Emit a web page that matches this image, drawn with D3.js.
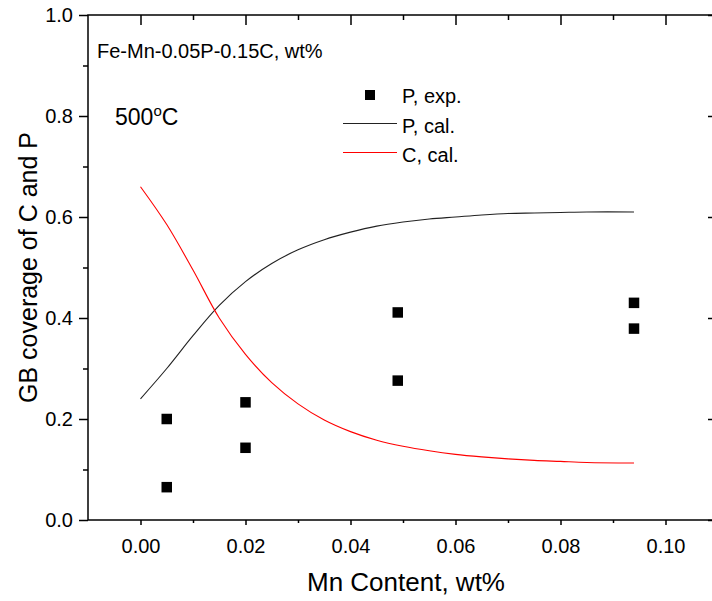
<!DOCTYPE html>
<html>
<head>
<meta charset="utf-8">
<script src="https://cdn.jsdelivr.net/npm/d3@7"></script>
<style>
  body { margin: 0; background: #fff; }
  svg { font-family: Arial, "Liberation Sans", sans-serif; }
  .axis path, .axis line { stroke: #000; stroke-width: 1.5; }
  .axis text { font-size: 20px; fill: #000; }
</style>
</head>
<body>
<svg width="712" height="601"></svg>
<script>
// P, exp. points
var expMn = [0.005, 0.005, 0.02, 0.02, 0.049, 0.049, 0.094, 0.094];
var expP = [0.200, 0.065, 0.233, 0.143, 0.411, 0.276, 0.430, 0.379];

// P, cal. and C, cal. curves (same Mn grid)
var calMn = [0, 0.005, 0.01, 0.015, 0.02, 0.025, 0.03, 0.035, 0.04, 0.045,
    0.05, 0.055, 0.06, 0.065, 0.07, 0.075, 0.08, 0.085, 0.094];
var calP = [0.240, 0.300, 0.365, 0.425, 0.472, 0.508, 0.535, 0.555, 0.570, 0.582,
    0.590, 0.596, 0.600, 0.604, 0.607, 0.608, 0.609, 0.610, 0.610];
var calC = [0.660, 0.585, 0.495, 0.400, 0.328, 0.272, 0.230, 0.198, 0.175, 0.158,
    0.146, 0.137, 0.130, 0.125, 0.121, 0.118, 0.116, 0.114, 0.113];

var xTicks = [0, 0.02, 0.04, 0.06, 0.08, 0.10];
var xMinor = [0.01, 0.03, 0.05, 0.07, 0.09];
var yTicks = [0, 0.2, 0.4, 0.6, 0.8, 1.0];
var yMinor = [0.1, 0.3, 0.5, 0.7, 0.9];

var svg = d3.select('svg');

var plot = {l: 88, r: 718, t: 15, b: 520};

var xScale = d3.scaleLinear().domain([-0.01, 0.11]).range([plot.l, plot.r]);
var yScale = d3.scaleLinear().domain([0, 1]).range([plot.b, plot.t]);

// axes: bottom & left outward, top & right inward
svg.append('g')
    .attr('class', 'axis')
    .attr('transform', 'translate(0,' + plot.b + ')')
    .call(d3.axisBottom(xScale).tickValues(xTicks).tickSize(5).tickPadding(14)
        .tickFormat(d3.format('.2f')));
svg.append('g')
    .attr('class', 'axis')
    .attr('transform', 'translate(0,' + plot.b + ')')
    .call(d3.axisBottom(xScale).tickValues(xMinor).tickSize(3).tickFormat(''));

svg.append('g')
    .attr('class', 'axis')
    .attr('transform', 'translate(0,' + plot.t + ')')
    .call(d3.axisBottom(xScale).tickValues(xTicks).tickSize(10).tickFormat(''));
svg.append('g')
    .attr('class', 'axis')
    .attr('transform', 'translate(0,' + plot.t + ')')
    .call(d3.axisBottom(xScale).tickValues(xMinor).tickSize(5).tickFormat(''));

svg.append('g')
    .attr('class', 'axis')
    .attr('transform', 'translate(' + plot.l + ',0)')
    .call(d3.axisLeft(yScale).tickValues(yTicks).tickSize(9).tickPadding(6)
        .tickFormat(d3.format('.1f')));
svg.append('g')
    .attr('class', 'axis')
    .attr('transform', 'translate(' + plot.l + ',0)')
    .call(d3.axisLeft(yScale).tickValues(yMinor).tickSize(5).tickFormat(''));

svg.append('g')
    .attr('class', 'axis')
    .attr('transform', 'translate(' + plot.r + ',0)')
    .call(d3.axisLeft(yScale).tickValues(yTicks).tickSize(10).tickFormat(''));
svg.append('g')
    .attr('class', 'axis')
    .attr('transform', 'translate(' + plot.r + ',0)')
    .call(d3.axisLeft(yScale).tickValues(yMinor).tickSize(5).tickFormat(''));

svg.selectAll('.axis .domain').attr('d', null);
svg.append('rect')
    .attr('x', plot.l).attr('y', plot.t)
    .attr('width', plot.r - plot.l).attr('height', plot.b - plot.t)
    .attr('fill', 'none').attr('stroke', '#000').attr('stroke-width', 1.5);

// curves
var line = d3.line()
    .x(function(d) { return xScale(d[0]); })
    .y(function(d) { return yScale(d[1]); })
    .curve(d3.curveCatmullRom);

svg.append('path')
    .datum(d3.zip(calMn, calP))
    .attr('fill', 'none').attr('stroke', '#222').attr('stroke-width', 1.1)
    .attr('d', line);

svg.append('path')
    .datum(d3.zip(calMn, calC))
    .attr('fill', 'none').attr('stroke', '#ff0000').attr('stroke-width', 1.1)
    .attr('d', line);

// exp squares
var sq = 10.5;
svg.selectAll('.pt')
    .data(d3.zip(expMn, expP))
    .enter().append('rect')
    .attr('class', 'pt')
    .attr('x', function(d) { return xScale(d[0]) - sq / 2; })
    .attr('y', function(d) { return yScale(d[1]) - sq / 2; })
    .attr('width', sq).attr('height', sq)
    .attr('fill', '#000');

// axis titles
svg.append('text')
    .attr('x', 406).attr('y', 591)
    .attr('text-anchor', 'middle')
    .style('font-size', '26px')
    .text('Mn Content, wt%');

svg.append('text')
    .attr('transform', 'translate(37,' + (plot.t + plot.b) / 2 + ') rotate(-90)')
    .attr('text-anchor', 'middle')
    .style('font-size', '25px')
    .text('GB coverage of C and P');

// annotations
svg.append('text')
    .attr('x', 97).attr('y', 58)
    .style('font-size', '20px')
    .text('Fe-Mn-0.05P-0.15C, wt%');

var t500 = svg.append('text')
    .attr('x', 115).attr('y', 125)
    .style('font-size', '23px');
t500.append('tspan').text('500');
t500.append('tspan').attr('dy', -9).style('font-size', '15px').text('o');
t500.append('tspan').attr('dy', 9).text('C');

// legend
var legend = svg.append('g').attr('transform', 'translate(343,0)');
legend.append('rect')
    .attr('x', 22).attr('y', 90).attr('width', 10).attr('height', 10)
    .attr('fill', '#000');
legend.append('line')
    .attr('x1', 0).attr('x2', 54).attr('y1', 123.5).attr('y2', 123.5)
    .attr('stroke', '#222').attr('stroke-width', 1.1);
legend.append('line')
    .attr('x1', 0).attr('x2', 54).attr('y1', 152.5).attr('y2', 152.5)
    .attr('stroke', '#ff0000').attr('stroke-width', 1.1);
legend.selectAll('.lab')
    .data(['P, exp.', 'P, cal.', 'C, cal.'])
    .enter().append('text')
    .attr('x', 59)
    .attr('y', function(d, i) { return 103 + i * 29.5; })
    .style('font-size', '20px')
    .text(function(d) { return d; });
</script>
</body>
</html>
